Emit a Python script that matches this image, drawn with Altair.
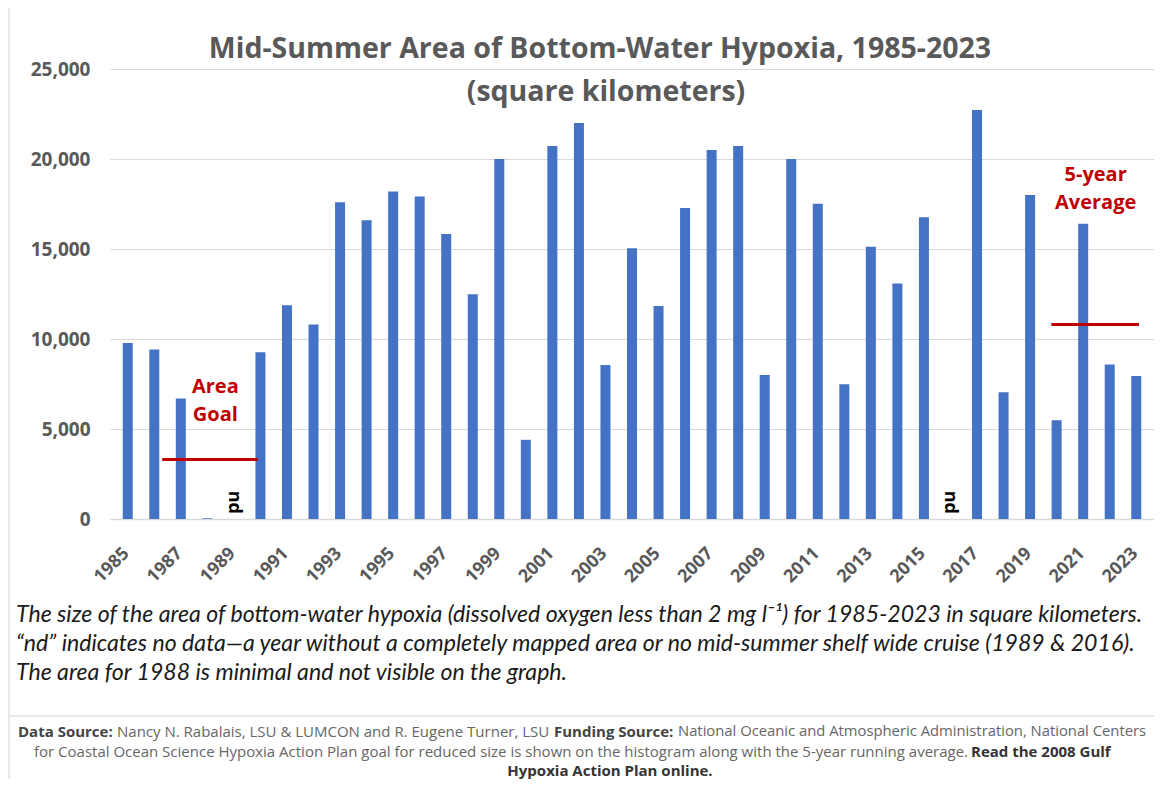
import altair as alt
import pandas as pd

# ---------------- data ----------------
YEARS = list(range(1985, 2024))
AREA_KM2 = [9774, 9422, 6688, 40, None, 9259, 11874, 10804, 17600, 16600,
            18200, 17920, 15840, 12480, 20000, 4400, 20720, 22000, 8560, 15040,
            11840, 17280, 20500, 20720, 8000, 20000, 17520, 7480, 15120, 13080,
            16760, None, 22720, 7040, 18005, 5480, 16405, 8585, 7950]
ND_YEARS = [1989, 2016]
ND_TEXT = ["nd", "nd"]
AXIS_YEARS = list(range(1985, 2024, 2))
Y_TICKS = [0, 5000, 10000, 15000, 20000, 25000]

GOAL_START = [1986.3]
GOAL_END = [1989.9]
GOAL_VALUE = [3300]
GOAL_TEXT = ["Area", "Goal"]
GOAL_TEXT_YEAR = [1988.3, 1988.3]
GOAL_TEXT_VALUE = [7330, 5780]

AVG_START = [2019.8]
AVG_END = [2023.1]
AVG_VALUE = [10800]
AVG_TEXT = ["5-year", "Average"]
AVG_TEXT_YEAR = [2021.47, 2021.47]
AVG_TEXT_VALUE = [19110, 17560]

TITLE = "Mid-Summer Area of Bottom-Water Hypoxia, 1985-2023"
SUBTITLE = "(square kilometers)"
CAPTION = [
    "The size of the area of bottom-water hypoxia (dissolved oxygen less than 2 mg l\u207b\u00b9) for 1985-2023 in square kilometers.",
    "\u201cnd\u201d indicates no data\u2014a year without a completely mapped area or no mid-summer shelf wide cruise (1989 & 2016).",
    "The area for 1988 is minimal and not visible on the graph.",
]
FOOT_1 = ["Data Source:", "Nancy N. Rabalais, LSU & LUMCON and R. Eugene Turner, LSU",
          "Funding Source:", "National Oceanic and Atmospheric Administration, National Centers"]
FOOT_2 = ["for Coastal Ocean Science Hypoxia Action Plan goal for reduced size is shown on the histogram along with the 5-year running average.",
          "Read the 2008 Gulf"]
FOOT_3 = ["Hypoxia Action Plan online."]

# ---------------- styling ----------------
W, H = 1044, 450
BLUE = "#4472C4"
RED = "#C00000"
GRAY = "#595959"
GRID = "#d9d9d9"
FONT = "Open Sans"

bars_df = pd.DataFrame({"year": YEARS, "area": AREA_KM2}).dropna()
nd_df = pd.DataFrame({"year": ND_YEARS, "area": [0] * len(ND_YEARS), "t": ND_TEXT})
goal_df = pd.DataFrame({"year": GOAL_START, "year2": GOAL_END, "area": GOAL_VALUE})
avg_df = pd.DataFrame({"year": AVG_START, "year2": AVG_END, "area": AVG_VALUE})
goal_txt = pd.DataFrame({"year": GOAL_TEXT_YEAR, "area": GOAL_TEXT_VALUE, "t": GOAL_TEXT})
avg_txt = pd.DataFrame({"year": AVG_TEXT_YEAR, "area": AVG_TEXT_VALUE, "t": AVG_TEXT})

xscale = alt.Scale(domain=[1984.52, 2023.48], nice=False, zero=False)
yscale = alt.Scale(domain=[0, 25000], nice=False)

x_axis = alt.Axis(values=AXIS_YEARS, format="d", labelAngle=-45, labelAlign="right",
                  labelBaseline="top", labelPadding=25, labelOffset=-8, labelFont=FONT,
                  labelFontSize=18, labelFontWeight="bold", labelColor=GRAY, ticks=False,
                  grid=False, domainColor=GRID, domainWidth=1.5, labelOverlap=False,
                  labelBound=False, title=None)
y_axis = alt.Axis(values=Y_TICKS, format=",d", labelPadding=20, labelFont=FONT,
                  labelFontSize=19, labelFontWeight="bold", labelColor=GRAY,
                  ticks=False, domain=False, grid=True, gridColor=GRID, title=None)

bars = alt.Chart(bars_df).mark_bar(width=10, color=BLUE).encode(
    x=alt.X("year:Q", scale=xscale, axis=x_axis),
    y=alt.Y("area:Q", scale=yscale, axis=y_axis),
)

nd = alt.Chart(nd_df).mark_text(angle=90, align="right", baseline="middle",
                                font=FONT, fontSize=18, fontWeight="bold",
                                color="#000000", dx=-5, dy=0).encode(
    x="year:Q", y="area:Q", text="t:N")

goal_rule = alt.Chart(goal_df).mark_rule(color=RED, strokeWidth=3).encode(
    x="year:Q", x2="year2:Q", y="area:Q")
avg_rule = alt.Chart(avg_df).mark_rule(color=RED, strokeWidth=3).encode(
    x="year:Q", x2="year2:Q", y="area:Q")

goal_lbl = alt.Chart(goal_txt).mark_text(font=FONT, fontSize=20, fontWeight="bold",
                                         color=RED, baseline="middle").encode(
    x="year:Q", y="area:Q", text="t:N")
avg_lbl = alt.Chart(avg_txt).mark_text(font=FONT, fontSize=20, fontWeight="bold",
                                       color=RED, baseline="middle").encode(
    x="year:Q", y="area:Q", text="t:N")


def label(text, x, y, **kw):
    return alt.Chart(pd.DataFrame({"t": [text]})).mark_text(**kw).encode(
        x=alt.value(x), y=alt.value(y), text="t:N")


texts = [
    label(TITLE, 490, -20, font=FONT, fontSize=28.5, fontWeight="bold", color=GRAY,
          align="center", baseline="middle"),
    label(SUBTITLE, 496, 23, font=FONT, fontSize=28.5, fontWeight="bold", color=GRAY,
          align="center", baseline="middle"),
]
for i, line in enumerate(CAPTION):
    texts.append(label(line, -94, 546 + 29 * i, font="Lato", fontSize=23.1, fontStyle="italic",
                       color="#1a1a1a", align="left", baseline="middle"))

FOOT_FONT = "Open Sans"
FS = 15
texts += [
    label(FOOT_1[0], -92, 663, font=FOOT_FONT, fontSize=FS, fontWeight="bold", color="#444444", align="left", baseline="middle"),
    label(FOOT_1[1], 7, 663, font=FOOT_FONT, fontSize=FS, color="#666666", align="left", baseline="middle"),
    label(FOOT_1[2], 444, 663, font=FOOT_FONT, fontSize=FS, fontWeight="bold", color="#444444", align="left", baseline="middle"),
    label(FOOT_1[3], 568, 663, font=FOOT_FONT, fontSize=14.8, color="#666666", align="left", baseline="middle"),
    label(FOOT_2[0], -76, 683, font=FOOT_FONT, fontSize=FS, color="#666666", align="left", baseline="middle"),
    label(FOOT_2[1], 861, 683, font=FOOT_FONT, fontSize=FS, fontWeight="bold", color="#333333", align="left", baseline="middle"),
    label(FOOT_3[0], 500, 702, font=FOOT_FONT, fontSize=FS, fontWeight="bold", color="#333333", align="center", baseline="middle"),
]

frame_df = pd.DataFrame({"k": [0]})
left_border = alt.Chart(frame_df).mark_rule(color="#e0e0e0", strokeWidth=1.5).encode(
    x=alt.value(-101), y=alt.value(-61), y2=alt.value(712))
footer_sep = alt.Chart(frame_df).mark_rule(color="#e0e0e0", strokeWidth=1.5).encode(
    x=alt.value(-101), x2=alt.value(W), y=alt.value(647))

chart = alt.layer(
    bars, nd, goal_rule, avg_rule, goal_lbl, avg_lbl, left_border, footer_sep, *texts
).properties(
    width=W, height=H,
    autosize=alt.AutoSizeParams(type="none"),
    padding={"left": 102, "top": 61, "right": 0, "bottom": 260},
    background="white",
).configure_view(stroke=None)

chart.save("out.html", embed_options={"renderer": "svg", "actions": False})
